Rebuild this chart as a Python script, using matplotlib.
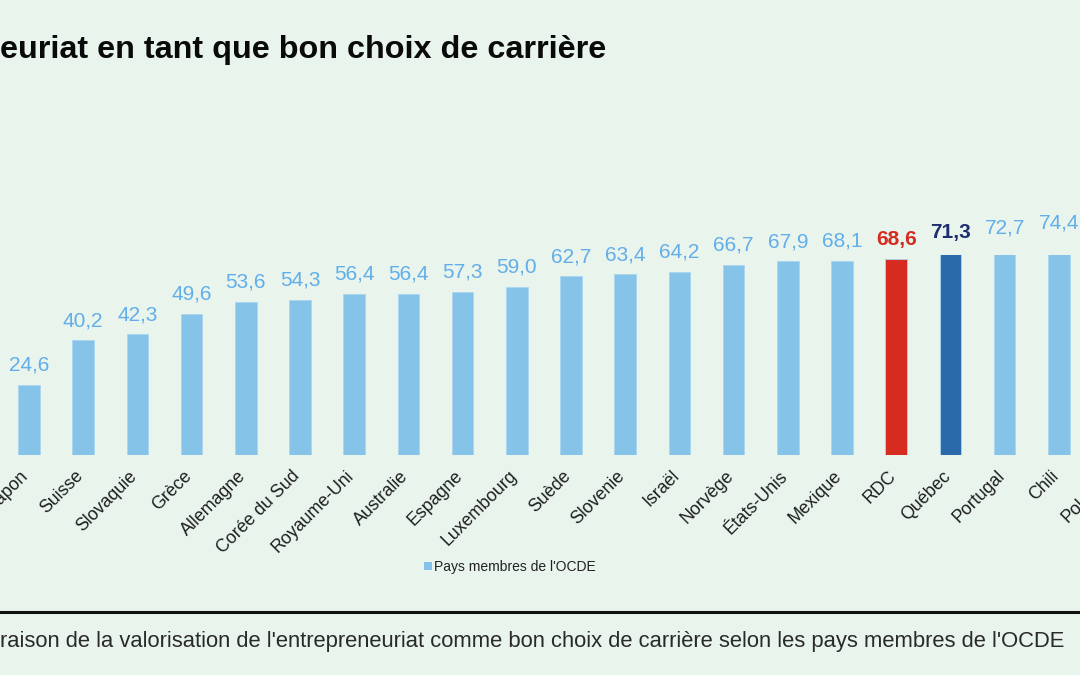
import numpy as np
import matplotlib
matplotlib.use("Agg")
import matplotlib.pyplot as plt
from matplotlib.patches import Patch

# data
pays = ["Japon", "Suisse", "Slovaquie", "Grèce", "Allemagne", "Corée du Sud",
        "Royaume-Uni", "Australie", "Espagne", "Luxembourg", "Suède", "Slovenie",
        "Israël", "Norvège", "États-Unis", "Mexique", "RDC", "Québec",
        "Portugal", "Chili", "Pologne"]
valeurs = [24.6, 40.2, 42.3, 49.6, 53.6, 54.3, 56.4, 56.4, 57.3, 59.0, 62.7,
           63.4, 64.2, 66.7, 67.9, 68.1, 68.6, 71.3, 72.7, 74.4, 76.0]
surlignes = {"RDC": ("#d62b1f", "#d62b1f"), "Québec": ("#2a6aaa", "#1f2e6e")}

bg = "#e8f4ec"
bleu = "#85c4e8"
bleu_txt = "#62aeea"

plt.rcParams['font.family'] = ['Liberation Sans', 'DejaVu Sans']

fig = plt.figure(figsize=(10.8, 6.75), dpi=100, facecolor=bg)
W, H = 1080, 675

# axes: baseline at y=455px, 2.85 px per unit, 54.2 px per bar
step = 54.2
x0 = -29 / step
ax = fig.add_axes([0, (H - 455) / H, 1, 200 / H])
ax.set_facecolor(bg)

x = np.arange(len(pays))
couleurs = [surlignes[p][0] if p in surlignes else bleu for p in pays]
ax.bar(x, valeurs, width=0.4, color=couleurs, edgecolor="#a9d6ef",
       linewidth=0.6, zorder=2)
ax.set_xticks([])
ax.set_yticks([])
ax.set_xlim(x0, x0 + W / step)
ax.set_ylim(0, 200 / 2.85)

xmax = x0 + W / step
for xi, v, p in zip(x, valeurs, pays):
    if p in surlignes:
        c, w = surlignes[p][1], "bold"
    else:
        c, w = bleu_txt, "normal"
    if xi < xmax:
        ax.text(xi, v + 3.6, f"{v:.1f}".replace(".", ","), ha="center",
                va="bottom", fontsize=15, color=c, fontweight=w)

for xi, p in zip(x, pays):
    ax.text(xi - 0.16, -4.4, p, rotation=45, rotation_mode="anchor",
            ha="right", va="top", fontsize=12.8, color="#1e1e1e",
            clip_on=False)
for s in ax.spines.values():
    s.set_visible(False)

# legend
leg = fig.legend(handles=[Patch(facecolor=bleu, label="Pays membres de l'OCDE")],
                 loc="center", bbox_to_anchor=(510 / W, 1 - 567 / H),
                 frameon=False, fontsize=10, handlelength=0.55,
                 handleheight=0.55, handletextpad=0.2)
for t in leg.get_texts():
    t.set_color("#222222")

# title and caption (cut off on the left in the reference)
fig.text(0, 1 - 50 / H, "euriat en tant que bon choix de carrière",
         ha="left", va="center", fontsize=23.3, fontweight="bold",
         color="#0a0a0a")
fig.add_artist(plt.Line2D([0, 1], [1 - 612 / H, 1 - 612 / H],
                          transform=fig.transFigure, color="#111111", lw=2.2))
fig.text(0, 1 - 641 / H,
         "raison de la valorisation de l'entrepreneuriat comme bon choix de "
         "carrière selon les pays membres de l'OCDE",
         ha="left", va="center", fontsize=15.8, color="#2a2a2a")

fig.savefig("out.png", dpi=100, facecolor=bg)
